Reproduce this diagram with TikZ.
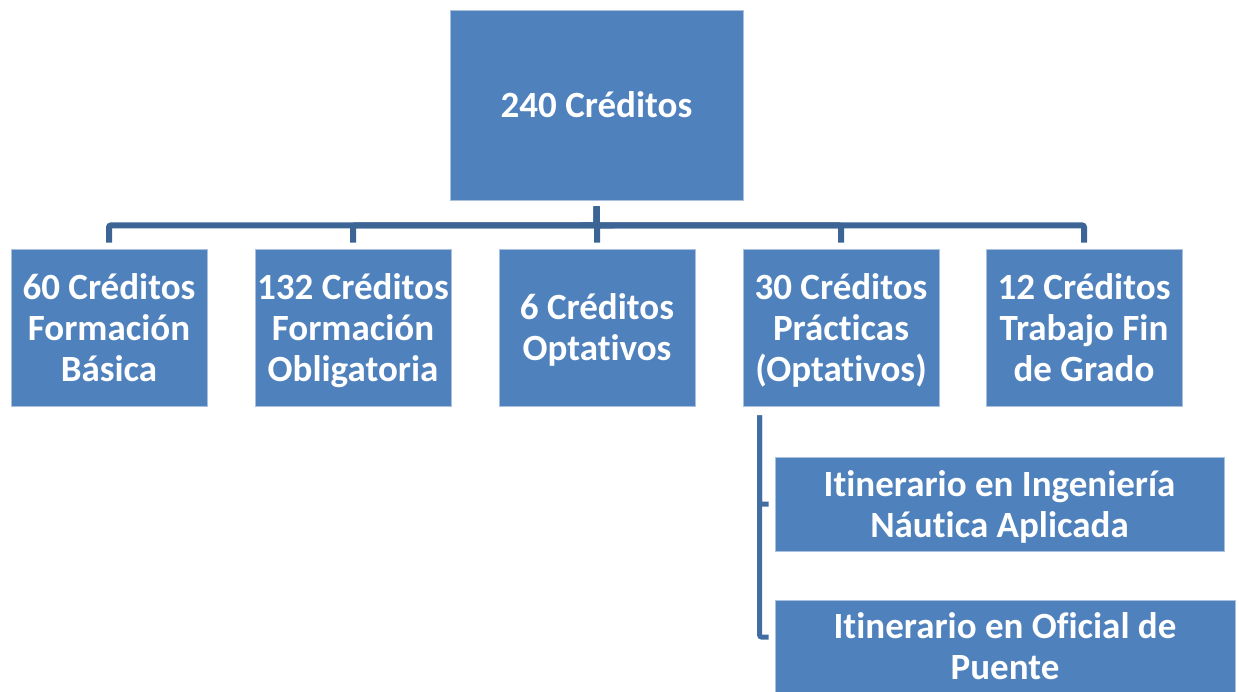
\documentclass[tikz,border=0pt]{standalone}
\usepackage{fontspec}
\setmainfont{Carlito}[RawFeature={-liga;-clig;-calt;-dlig;-rlig}]
\definecolor{boxfill}{HTML}{4F81BD}
\definecolor{boxedge}{HTML}{A9C0DE}
\definecolor{conncol}{HTML}{3C6596}
\newcommand{\nodep}[1]{\raisebox{0pt}[\height][0pt]{#1}}
\tikzset{
  box/.style={draw=boxedge, line width=0.8pt, fill=boxfill, text=white, font=\fontsize{37}{41}\selectfont\bfseries, align=center, inner sep=0pt, anchor=center},
  conn/.style={draw=conncol, line width=6pt, rounded corners=2pt},
  conn2/.style={draw=conncol!70!boxfill, line width=5pt, rounded corners=2pt}
}
\begin{document}
\begin{tikzpicture}[x=1pt,y=-1pt]
\useasboundingbox (0,0) rectangle (1239,691);
\node[box, minimum width=293pt, minimum height=190pt] (top) at (596.5,105) {240 Créditos};
\node[box, minimum width=196pt, minimum height=157pt] (c1) at (109,327.5) {60 Créditos\\Formación\\\nodep{Básica}};
\node[box, minimum width=196pt, minimum height=157pt] (c2) at (353,327.5) {132 Créditos\\Formación\\\nodep{Obligatoria}};
\node[box, minimum width=196pt, minimum height=157pt] (c3) at (597,327.5) {6 Créditos\\\nodep{Optativos}};
\node[box, minimum width=196pt, minimum height=157pt] (c4) at (841,327.5) {30 Créditos\\Prácticas\\\nodep{(Optativos)}};
\node[box, minimum width=196pt, minimum height=157pt] (c5) at (1084,327.5) {12 Créditos\\Trabajo Fin\\\nodep{de Grado}};
\node[box, minimum width=449pt, minimum height=94pt] (ia) at (999.5,504) {Itinerario en Ingeniería\\\nodep{Náutica Aplicada}};
\node[box, minimum width=460pt, minimum height=92pt] (ib) at (1005,646) {Itinerario en Oficial de\\\nodep{Puente}};
\foreach \c in {c1,c2,c3,c4,c5}{
  \draw[conn] ([yshift=-6pt]top.south) -- ([yshift=-25pt]top.south) -| ([yshift=6pt]\c.north);
}
\draw[conn2] ([xshift=17pt,yshift=-9pt]c4.south west) |- ([xshift=-6pt]ia.west);
\draw[conn2] ([xshift=17pt,yshift=-9pt]c4.south west) |- ([xshift=-6pt,yshift=9pt]ib.west);
\end{tikzpicture}
\end{document}
